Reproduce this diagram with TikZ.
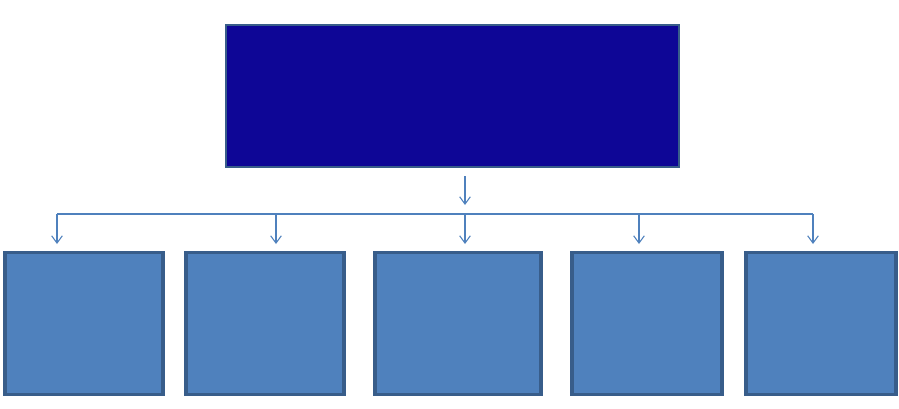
\documentclass[tikz,border=0pt]{standalone}
\usepackage{tikz}
\usetikzlibrary{arrows.meta}
\definecolor{boxfill}{HTML}{4F81BD}
\definecolor{boxline}{HTML}{385D8A}
\definecolor{headfill}{HTML}{0E0696}
\begin{document}
\begin{tikzpicture}[x=0.75pt,y=-0.75pt,
    headbox/.style={draw=boxline, line width=1.6pt, fill=headfill, inner sep=0pt,
        minimum width=340pt, minimum height=106.5pt},
    leafbox/.style={draw=boxline, line width=2.3pt, fill=boxfill, inner sep=0pt,
        minimum height=106pt},
    link/.style={draw=boxfill, line width=0.8pt},
    linkarrow/.style={link, -{Straight Barb[length=5.5pt,width=8pt]}}]
        \useasboundingbox (0,0) rectangle (899,408);
        % top box
        \node [headbox] (top) at (452.5,96) {};
        % bottom boxes
        \foreach \c/\w/\n in {84/158/1,265/158/2,458/166/3,647/150/4,821/150/5} {
            \node [leafbox, minimum width=\w*0.75pt] (leaf\n) at (\c,323.5) {};
        }
        % connectors
        \coordinate (in1) at (465,176);
        \coordinate (in2) at (465,205);
        \draw [linkarrow] (in1) -- (in2);
        \coordinate (busl) at (57,214);
        \coordinate (busr) at (813,214);
        \draw [link] (busl) -- (busr);
        \foreach \x/\n in {57/1,276/2,465/3,639/4,813/5} {
            \coordinate (tap\n) at (\x,214);
            \coordinate (end\n) at (\x,244);
            \draw [linkarrow] (tap\n) -- (end\n);
        }
\end{tikzpicture}
\end{document}
